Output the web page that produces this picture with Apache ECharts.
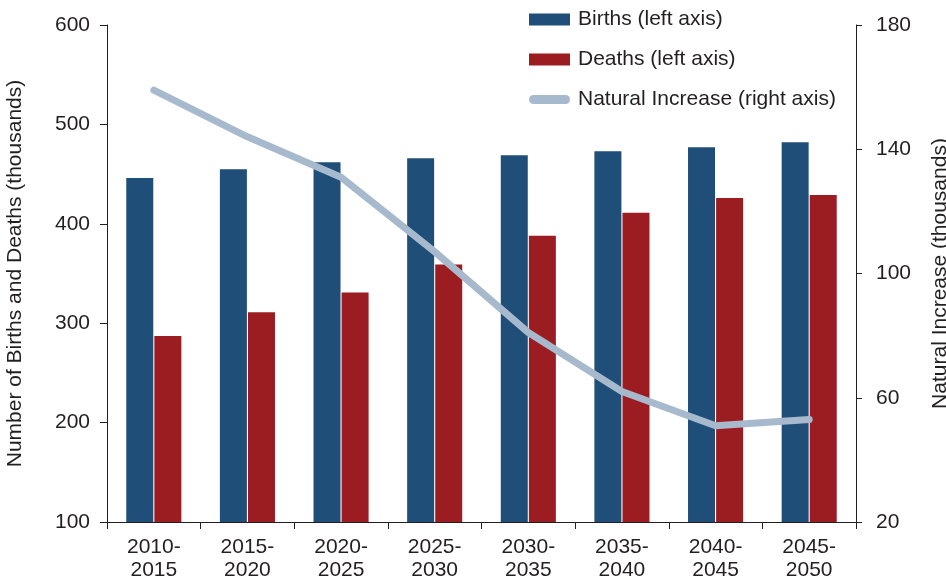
<!DOCTYPE html>
<html>
<head>
<meta charset="utf-8">
<script src="https://cdn.jsdelivr.net/npm/echarts@6/dist/echarts.min.js"></script>
<style>
  html, body { margin: 0; padding: 0; background: #fff; }
  #chart { width: 946px; height: 583px; }
</style>
</head>
<body>
<div id="chart"></div>
<script>
  // 期间
  var periods = ['2010-\n2015', '2015-\n2020', '2020-\n2025', '2025-\n2030',
                 '2030-\n2035', '2035-\n2040', '2040-\n2045', '2045-\n2050'];
  // 出生 / 死亡 (千)
  var births = [446, 455, 462, 466, 469, 473, 477, 482];
  var deaths = [287, 311, 331, 359, 388, 411, 426, 429];
  // 自然增长 (千, 右轴)
  var naturalIncrease = [159, 144, 131, 107, 81, 62, 51, 53];

  var leftTicks = {min: 100, max: 600, interval: 100};
  var rightTicks = {min: 20, max: 180, interval: 40};

  var font = 'Liberation Sans';
  var textColor = '#231f20';
  var axisColor = '#231f20';
  var lineColor = '#a7b9cc';

  var myChart = echarts.init(document.getElementById('chart'));
  var option = {
    animation: false,
    textStyle: {fontFamily: font},
    grid: {left: 107, right: 90, top: 25, bottom: 61, outerBoundsMode: 'none', containLabel: false},
    legend: {
      orient: 'vertical',
      left: 524,
      top: 4,
      itemGap: 19,
      itemWidth: 41,
      itemHeight: 12,
      textStyle: {fontFamily: font, fontSize: 21, color: textColor, padding: [0, 0, 0, 3]},
      data: [
        {name: 'Births (left axis)', icon: 'rect'},
        {name: 'Deaths (left axis)', icon: 'rect'},
        {name: 'Natural Increase (right axis)',
         // 圆头粗线图例
         icon: 'path://M0,0 L0,0 M4.5,1.5 h32 a4.5,4.5 0 0 1 0,9 h-32 a4.5,4.5 0 0 1 0,-9 z M41,12 L41,12',
         itemStyle: {color: lineColor}}
      ]
    },
    xAxis: {
      type: 'category',
      data: periods,
      axisLine: {lineStyle: {color: axisColor, width: 1}},
      axisTick: {show: true, length: 7, lineStyle: {color: axisColor}},
      axisLabel: {fontSize: 21, color: textColor, margin: 14, lineHeight: 23}
    },
    yAxis: [
      {
        type: 'value',
        min: leftTicks.min, max: leftTicks.max, interval: leftTicks.interval,
        name: 'Number of Births and Deaths (thousands)',
        nameLocation: 'middle',
        nameGap: 81,
        nameTextStyle: {fontSize: 21, color: textColor, fontFamily: font},
        axisLine: {show: true, lineStyle: {color: axisColor}},
        axisTick: {show: true, length: 7, lineStyle: {color: axisColor}},
        axisLabel: {fontSize: 21, color: textColor, margin: 17},
        splitLine: {show: false}
      },
      {
        type: 'value',
        position: 'right',
        min: rightTicks.min, max: rightTicks.max, interval: rightTicks.interval,
        name: 'Natural Increase (thousands)',
        nameLocation: 'middle',
        nameGap: 74,
        nameRotate: 90,
        nameTextStyle: {fontSize: 21, color: textColor, fontFamily: font},
        axisLine: {show: true, lineStyle: {color: axisColor}},
        axisTick: {show: true, length: 6, lineStyle: {color: axisColor}},
        axisLabel: {fontSize: 21, color: textColor, margin: 20},
        splitLine: {show: false}
      }
    ],
    series: [
      {
        name: 'Births (left axis)',
        type: 'bar',
        data: births,
        barWidth: 27,
        barGap: '4%',
        itemStyle: {color: '#1f4e79'}
      },
      {
        name: 'Deaths (left axis)',
        type: 'bar',
        data: deaths,
        barWidth: 27,
        itemStyle: {color: '#9b1c21'}
      },
      {
        name: 'Natural Increase (right axis)',
        type: 'line',
        yAxisIndex: 1,
        data: naturalIncrease,
        symbol: 'none',
        lineStyle: {color: lineColor, width: 7, cap: 'round', join: 'round'},
        itemStyle: {color: lineColor},
        z: 5
      }
    ]
  };
  myChart.setOption(option, true);
</script>
</body>
</html>
